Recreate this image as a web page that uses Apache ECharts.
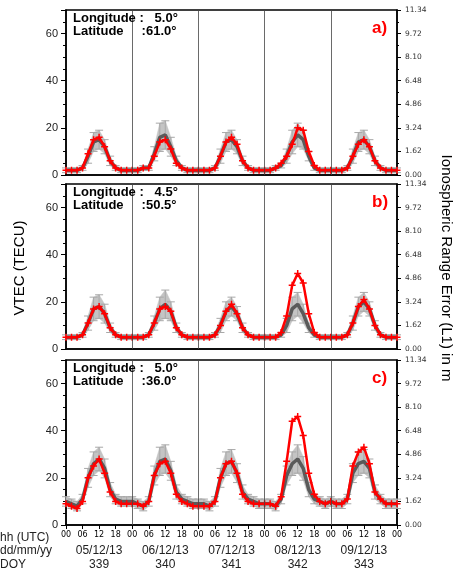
<!DOCTYPE html>
<html><head><meta charset="utf-8">
<script src="https://cdn.jsdelivr.net/npm/echarts@6/dist/echarts.min.js"></script>
<style>html,body{margin:0;background:#fff}#chart{width:460px;height:571px}</style>
</head><body><div id="chart"></div>
<script>
// 2-hourly samples, 00 UTC 05/12/13 .. 00 UTC 10/12/13 (61 values), TECU
const hours = Array.from({ length: 61 }, (_, i) => i * 2);
const dayLabels = ['05/12/13', '06/12/13', '07/12/13', '08/12/13', '09/12/13'];
const doyLabels = ['339', '340', '341', '342', '343'];
const hourTicks = ['00', '06', '12', '18'];
const rightTicks = ['0.00', '1.62', '3.24', '4.86', '6.48', '8.10', '9.72', '11.34'];

const redA = [2,2,2,3,9,15,16,12,6,3,2,2, 2,2,3,3,8,14,15,11,5,3,2,2, 2,2,2,3,8,14,16,13,6,3,2,2, 2,2,3,5,8,13,20,19,10,4,2,2, 2,2,2,3,8,13,15,12,6,3,2,2, 2];
const meanA = [2,2,2,3,8,14,15,12,6,3,2,2, 2,2,3,3,9,16,17,12,6,3,2,2, 2,2,2,3,8,14,15,12,6,3,2,2, 2,2,3,4,8,14,17,15,8,3,2,2, 2,2,2,3,8,14,15,12,6,3,2,2, 2];
const stdA = [1,1,1,1,3,4,4,3,2,1,1,1, 1,1,1,1,3,6,6,4,2,1,1,1, 1,1,1,1,3,4,4,3,2,1,1,1, 1,1,1,1,3,5,5,4,2,1,1,1, 1,1,1,1,3,4,4,3,2,1,1,1, 1];

const redB = [5,5,5,6,11,17,18,15,9,6,5,5, 5,5,5,6,11,17,18,16,9,6,5,5, 5,5,5,6,10,16,19,15,9,6,5,5, 5,5,5,7,14,27,32,28,15,7,5,5, 5,5,5,6,11,18,21,17,10,6,5,5, 5];
const meanB = [5,5,5,6,11,17,18,15,9,6,5,5, 5,5,5,6,11,17,19,16,9,6,5,5, 5,5,5,6,10,16,18,15,9,6,5,5, 5,5,5,6,10,17,19,15,9,6,5,5, 5,5,5,6,11,18,20,17,10,6,5,5, 5];
const stdB = [1,1,1,1,3,5,5,4,2,1,1,1, 1,1,1,1,3,5,6,4,2,1,1,1, 1,1,1,1,3,4,4,3,2,1,1,1, 1,1,1,1,3,5,5,4,2,1,1,1, 1,1,1,1,3,4,4,3,2,1,1,1, 1];

const redC = [9,8,7,10,20,25,28,22,14,10,9,9, 9,9,8,10,21,26,27,22,13,10,9,8, 8,8,8,10,20,26,27,22,13,10,9,9, 9,9,8,12,27,44,46,38,22,13,10,9, 10,9,9,11,25,31,33,26,14,11,9,9, 9];
const meanC = [10,9,8,11,20,26,28,24,15,11,10,10, 10,9,8,10,21,27,28,23,14,11,10,9, 9,9,8,10,20,26,27,22,14,11,10,9, 9,9,8,11,21,26,28,24,15,11,10,9, 10,9,9,11,22,26,27,24,14,11,9,9, 9];
const stdC = [2,2,2,2,4,5,5,4,3,2,2,2, 2,2,2,2,4,6,6,4,3,2,2,2, 2,2,2,2,4,5,5,4,3,2,2,2, 2,2,2,2,4,5,6,5,3,2,2,2, 2,2,2,2,4,5,5,4,3,2,2,2, 2];

const panels = [
  { red: redA, mean: meanA, std: stdA, lon: '5.0', lat: '61.0', tag: 'a)', top: 10 },
  { red: redB, mean: meanB, std: stdB, lon: '4.5', lat: '50.5', tag: 'b)', top: 184 },
  { red: redC, mean: meanC, std: stdC, lon: '5.0', lat: '36.0', tag: 'c)', top: 360 },
];
const H = 165, L = 66, R = 397;

const grid = [], xAxis = [], yAxis = [], series = [], graphic = [];
panels.forEach((p, i) => {
  grid.push({ left: L, width: R - L, top: p.top, height: H, show: true, borderColor: '#000', borderWidth: 1.5 });
  xAxis.push({
    type: 'value', gridIndex: i, min: 0, max: 120, interval: 6,
    axisLine: { lineStyle: { color: '#000', width: 1.5 } },
    axisTick: { show: i === 2, length: 4, lineStyle: { color: '#000' } },
    axisLabel: { show: i === 2, fontSize: 8, color: '#000', margin: 6, fontFamily: 'DejaVu Sans',
      formatter: v => hourTicks[(v / 6) % 4] },
    splitLine: { show: false },
  });
  yAxis.push({
    type: 'value', gridIndex: i, min: 0, max: 70, position: 'left', interval: 20,
    axisLine: { show: true, lineStyle: { color: '#000', width: 1.5 } },
    axisTick: { length: 5, lineStyle: { color: '#000' } },
    minorTick: { show: true, splitNumber: 4, length: 3, lineStyle: { color: '#000' } },
    splitLine: { show: false },
    axisLabel: { fontSize: 11, color: '#222', fontFamily: 'Liberation Sans', formatter: v => v > 60 ? '' : v },
  });
  yAxis.push({
    type: 'value', gridIndex: i, min: 0, max: 70, position: 'right', interval: 10,
    axisLine: { show: true, lineStyle: { color: '#000', width: 1.5 } },
    axisTick: { length: 4, lineStyle: { color: '#000' } },
    minorTick: { show: true, splitNumber: 2, length: 2, lineStyle: { color: '#000' } },
    splitLine: { show: false },
    axisLabel: { fontSize: 7.5, color: '#333', fontFamily: 'DejaVu Sans', formatter: v => rightTicks[v / 10] },
  });
  // each item: x, lo, hi, and the next sample's x, lo, hi (for the band segment)
  const bandData = p.mean.map((m, k) => {
    const n = Math.min(k + 1, p.mean.length - 1);
    return [hours[k], m - p.std[k], m + p.std[k], hours[n], p.mean[n] - p.std[n], p.mean[n] + p.std[n]];
  });
  series.push({
    type: 'custom', xAxisIndex: i, yAxisIndex: 2 * i, data: bandData, silent: true,
    encode: { x: 0, y: [1, 2] }, z: 1,
    renderItem(params, api) {
      const lo = api.coord([api.value(0), api.value(1)]);
      const hi = api.coord([api.value(0), api.value(2)]);
      const lo2 = api.coord([api.value(3), api.value(4)]);
      const hi2 = api.coord([api.value(3), api.value(5)]);
      const w = 4;
      const ls = { stroke: '#a8a8a8', lineWidth: 1 };
      return { type: 'group', children: [
        { type: 'polygon', shape: { points: [lo, hi, hi2, lo2] }, style: { fill: '#c4c4c4', stroke: '#c4c4c4', lineWidth: 0.5 } },
        { type: 'line', shape: { x1: lo[0], y1: lo[1], x2: hi[0], y2: hi[1] }, style: ls },
        { type: 'line', shape: { x1: lo[0] - w, y1: lo[1], x2: lo[0] + w, y2: lo[1] }, style: ls },
        { type: 'line', shape: { x1: hi[0] - w, y1: hi[1], x2: hi[0] + w, y2: hi[1] }, style: ls },
      ] };
    },
    markLine: { silent: true, symbol: 'none', label: { show: false },
      lineStyle: { color: '#444', width: 0.8, type: 'solid' },
      data: [24, 48, 72, 96].map(x => ({ xAxis: x })) },
  });
  series.push({ type: 'line', xAxisIndex: i, yAxisIndex: 2 * i, data: p.mean.map((m, k) => [hours[k], m]),
    symbol: 'none', lineStyle: { color: '#5a5a5a', width: 3.5 }, z: 2 });
  series.push({ type: 'line', xAxisIndex: i, yAxisIndex: 2 * i, data: p.red.map((m, k) => [hours[k], m]), z: 3,
    symbol: 'path://M0,5L10,5L5,5L5,0L5,10L5,5Z', symbolSize: 7,
    itemStyle: { color: 'none', borderColor: '#ff0000', borderWidth: 1.5 },
    lineStyle: { color: '#ff0000', width: 2.5 } });
  graphic.push({ type: 'text', left: 73, top: p.top + 2, z: 10, style: {
    text: 'Longitude :   ' + p.lon + '°\nLatitude     :' + p.lat + '°', font: 'bold 13px Liberation Sans', fill: '#000', lineHeight: 13 } });
  graphic.push({ type: 'text', left: 372, top: p.top + 10, z: 10, style: { text: p.tag, font: 'bold 17px Liberation Sans', fill: '#ff0000' } });
});

const dayW = (R - L) / 5;
dayLabels.forEach((d, k) => {
  const cx = L + dayW * (k + 0.5);
  graphic.push({ type: 'text', x: cx, y: 551, style: { text: d, font: '12px Liberation Sans', fill: '#222', align: 'center', verticalAlign: 'middle' } });
  graphic.push({ type: 'text', x: cx, y: 565, style: { text: doyLabels[k], font: '12px Liberation Sans', fill: '#222', align: 'center', verticalAlign: 'middle' } });
});
[['hh (UTC)', 538], ['dd/mm/yy', 551], ['DOY', 565]].forEach(([t, y]) => {
  graphic.push({ type: 'text', x: 0, y, style: { text: t, font: '12px Liberation Sans', fill: '#222', verticalAlign: 'middle' } });
});
graphic.push({ type: 'text', x: 20, y: 268, rotation: Math.PI / 2, style: { text: 'VTEC (TECU)', font: '15px Liberation Sans', fill: '#000', align: 'center', verticalAlign: 'middle' } });
graphic.push({ type: 'text', x: 446, y: 268, rotation: -Math.PI / 2, style: { text: 'Ionospheric Range Error (L1) in m', font: '15px Liberation Sans', fill: '#000', align: 'center', verticalAlign: 'middle' } });

const chart = echarts.init(document.getElementById('chart'));
chart.setOption({ animation: false, grid, xAxis, yAxis, series, graphic });
</script></body></html>
